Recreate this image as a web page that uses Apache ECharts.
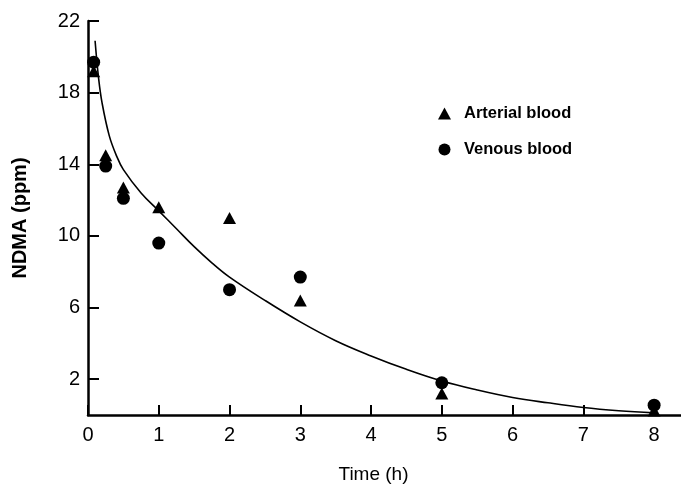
<!DOCTYPE html>
<html>
<head>
<meta charset="utf-8">
<script src="https://cdn.jsdelivr.net/npm/echarts@6/dist/echarts.min.js"></script>
<style>
html,body{margin:0;padding:0;background:#fff;}
#chart{width:681px;height:485px;}
</style>
</head>
<body>
<div id="chart"></div>
<script>
// Data
var arterialTime = [0.08, 0.25, 0.5, 1, 2, 3, 5, 8];
var arterialNDMA = [19.2, 14.5, 12.7, 11.6, 11.0, 6.4, 1.2, 0.25];
var venousTime = [0.08, 0.25, 0.5, 1, 2, 3, 5, 8];
var venousNDMA = [19.7, 13.9, 12.1, 9.6, 7.0, 7.7, 1.8, 0.55];
var curveTime = [0.1, 0.15, 0.2, 0.3, 0.4, 0.5, 0.75, 1.0, 1.25, 1.5, 1.75, 2.0, 2.5, 3.0, 3.5, 4.0, 4.5, 5.0, 5.5, 6.0, 6.5, 7.0, 7.5, 8.0];
var curveNDMA = [20.9, 18.8, 17.4, 15.6, 14.5, 13.7, 12.4, 11.4, 10.4, 9.4, 8.5, 7.7, 6.4, 5.2, 4.15, 3.3, 2.55, 1.9, 1.4, 0.98, 0.68, 0.42, 0.24, 0.12];
var xTicks = [0, 1, 2, 3, 4, 5, 6, 7, 8];
var yTicks = [2, 6, 10, 14, 18, 22];
var seriesNames = ['Arterial blood', 'Venous blood'];

function pairs(xs, ys) { return xs.map(function (x, i) { return [x, ys[i]]; }); }

var chart = echarts.init(document.getElementById('chart'), null, {renderer: 'canvas'});
var font = 'Liberation Sans, Arial, Helvetica, sans-serif';
chart.setOption({
  animation: false,
  backgroundColor: '#fff',
  textStyle: {fontFamily: font, color: '#000'},
  grid: {left: 88, right: 0, top: 21, bottom: 70, containLabel: false, outerBoundsMode: 'none'},
  legend: {
    orient: 'vertical', left: 433, top: 100, itemGap: 19,
    itemWidth: 13, itemHeight: 12,
    data: [{name: seriesNames[0], icon: 'triangle'}, {name: seriesNames[1], icon: 'circle'}],
    itemStyle: {opacity: 1},
    textStyle: {fontFamily: font, fontSize: 16.5, fontWeight: 'bold', color: '#000', padding: [0, 0, 0, 8]}
  },
  xAxis: {
    type: 'value', min: 0, max: 8.38,
    name: 'Time (h)', nameLocation: 'middle', nameGap: 50,
    nameTextStyle: {fontFamily: font, fontSize: 19, color: '#000', padding: [0, 22, 0, 0]},
    splitLine: {show: false},
    axisLine: {show: true, lineStyle: {color: '#000', width: 2.5}},
    axisTick: {show: true, inside: true, length: 10, customValues: xTicks, lineStyle: {color: '#000', width: 2}},
    axisLabel: {customValues: xTicks, fontFamily: font, fontSize: 20, color: '#000', margin: 10}
  },
  yAxis: {
    type: 'value', min: 0, max: 22,
    name: 'NDMA (ppm)', nameLocation: 'middle', nameGap: 58, nameRotate: 90,
    nameTextStyle: {fontFamily: font, fontSize: 20, fontWeight: 'bold', color: '#000'},
    splitLine: {show: false},
    axisLine: {show: true, lineStyle: {color: '#000', width: 2.5}},
    axisTick: {show: true, inside: true, length: 11, customValues: yTicks, lineStyle: {color: '#000', width: 2}},
    axisLabel: {customValues: yTicks, fontFamily: font, fontSize: 20, color: '#000', margin: 8}
  },
  series: [
    {
      name: 'fit', type: 'line', data: pairs(curveTime, curveNDMA), smooth: 0.4,
      showSymbol: false, symbol: 'none', lineStyle: {color: '#000', width: 1.6}, z: 1
    },
    {
      name: seriesNames[0], type: 'scatter', symbol: 'triangle', symbolSize: [13, 12],
      data: pairs(arterialTime, arterialNDMA), itemStyle: {color: '#000', opacity: 1}, z: 3
    },
    {
      name: seriesNames[1], type: 'scatter', symbol: 'circle', symbolSize: 13,
      data: pairs(venousTime, venousNDMA), itemStyle: {color: '#000', opacity: 1}, z: 3
    }
  ]
});
</script>
</body>
</html>
